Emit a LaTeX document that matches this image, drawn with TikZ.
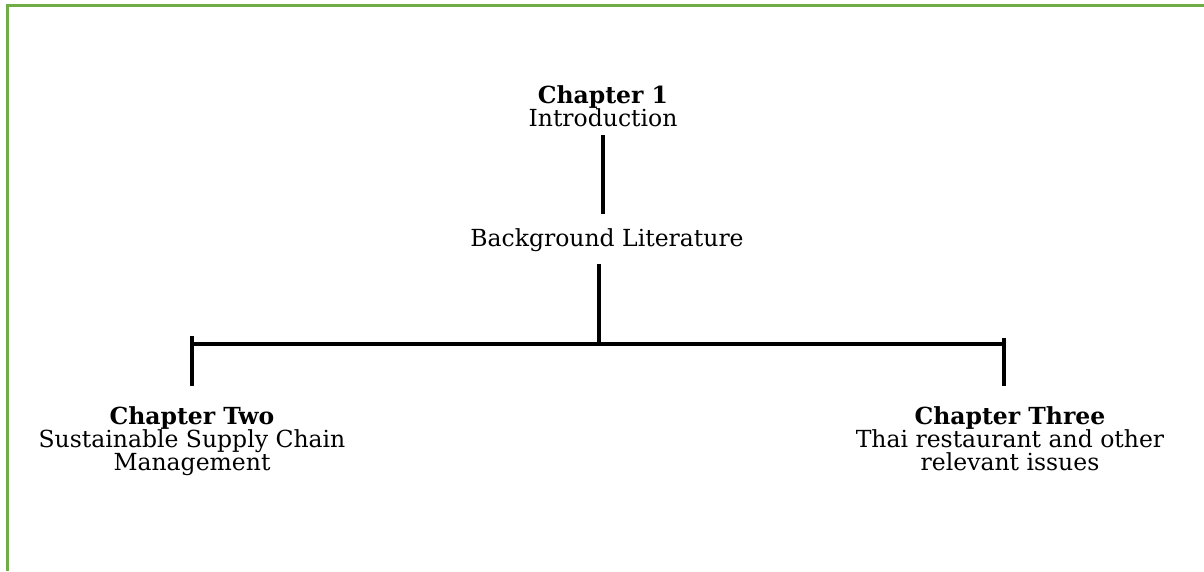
\documentclass[tikz,border=0pt]{standalone}
\usepackage{fontspec}
\setmainfont{DejaVu Serif}
\definecolor{framegreen}{HTML}{70AD47}
\begin{document}
\begin{tikzpicture}[x=1pt,y=-1pt,
  label text/.style={inner sep=0pt, align=center, anchor=north,
    font=\fontsize{23.5}{23}\selectfont},
  tree line/.style={line width=3.6pt, line cap=rect, black}]
  % page area and the green frame on its top and left edges
  \useasboundingbox (0,0) rectangle (1204,571);
  \draw[framegreen, line width=3pt] (7,571) -- (7,5) -- (1204,5);

  % chapter blocks
  \node[label text] (ch1) at (603,85) {\textbf{Chapter 1}\\Introduction};
  \node[label text] (bg) at (607,228) {Background Literature};
  \node[label text] (ch2) at (192,406) {\textbf{Chapter Two}\\Sustainable Supply Chain\\Management};
  \node[label text] (ch3) at (1010,406) {\textbf{Chapter Three}\\Thai restaurant and other\\relevant issues};

  % branching points of the tree
  \coordinate (top1) at (603,137);
  \coordinate (bot1) at (603,212);
  \coordinate (top2) at (599,266);
  \coordinate (mid) at (599,344);
  \coordinate (left) at (192,344);
  \coordinate (right) at (1004,344);

  \draw[tree line] (top1) -- (bot1);
  \draw[tree line] (top2) -- (mid);
  \draw[tree line] (left) -- (right);
  \draw[tree line] (192,338) -- (192,384);
  \draw[tree line] (1004,340) -- (1004,384);
\end{tikzpicture}
\end{document}
